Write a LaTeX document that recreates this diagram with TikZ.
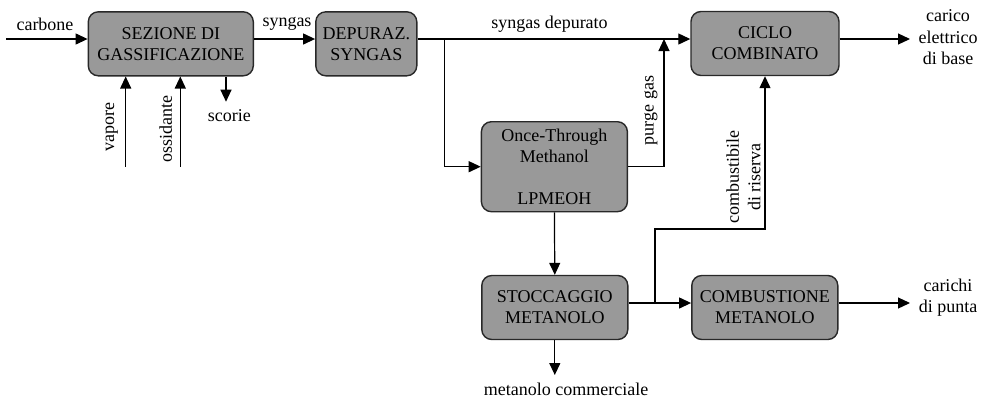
\documentclass[tikz,border=0pt]{standalone}
\usepackage{fontspec}
\setmainfont{Liberation Serif}
\newfontfamily\diagfont{Liberation Serif}
\usetikzlibrary{arrows.meta}
\definecolor{unitgray}{RGB}{153,153,153}
\definecolor{edgegray}{RGB}{40,40,40}
\begin{document}
\begin{tikzpicture}[x=0.5pt, y=-0.5pt,
    unit/.style={rectangle, rounded corners=5pt, draw=edgegray, line width=0.7pt, fill=unitgray, inner sep=1pt, minimum width=73pt, minimum height=32pt, align=center, font=\diagfont\fontsize{9}{10.5}\selectfont},
    lbl/.style={inner sep=0pt, align=center, font=\diagfont\fontsize{9}{10.8}\selectfont},
    flow/.style={-{Triangle[length=6pt, width=5.5pt]}, line width=0.6pt}
]
    \useasboundingbox (0,0) rectangle (982,398);

    % Process units
    \node[unit, minimum width=82.5pt] (gas) at (170.8, 43.8) {SEZIONE DI\\GASSIFICAZIONE};
    \node[unit, minimum width=50.5pt] (dep) at (366.3, 43.8) {DEPURAZ.\\SYNGAS};
    \node[unit, minimum width=74pt] (ciclo) at (765, 43.5) {CICLO\\COMBINATO};
    \node[unit, minimum height=45pt] (otm) at (554.4, 166.7) {Once-Through\\Methanol\\ \\LPMEOH};
    \node[unit] (stoc) at (554.8, 307.5) {STOCCAGGIO\\METANOLO};
    \node[unit] (comb) at (764.8, 307.5) {COMBUSTIONE\\METANOLO};

    % Free ends and junctions
    \coordinate (cin) at (6, 39);
    \coordinate (sp) at (444.5, 39);
    \coordinate (pg) at (664, 39);
    \coordinate (base) at (910, 39);
    \coordinate (lo) at (0, 303);
    \coordinate (rs) at (655, 303);
    \coordinate (rk) at (655, 229);
    \coordinate (punta) at (910, 303);
    \coordinate (mc) at (554.8, 375);
    \coordinate (vp) at (125.7, 166.7);
    \coordinate (ox) at (180.3, 166.7);
    \coordinate (sc) at (226, 101.7);

    % Syngas line
    \draw[flow] (cin) -- (cin -| gas.west);
    \draw[flow] (gas.east |- cin) -- (dep.west |- cin);
    \draw[flow] (dep.east |- cin) -- (ciclo.west |- cin);
    \draw[flow] (ciclo.east |- cin) -- (base);
    \draw[flow] (vp) -- (vp |- gas.south);
    \draw[flow] (ox) -- (ox |- gas.south);
    \draw[flow] (sc |- gas.south) -- (sc);

    % Methanol branch
    \draw[flow] (sp) |- (otm.west);
    \draw[flow] (otm.east) -| (pg);
    \draw[flow] (otm.south) -- (stoc.north);
    \draw[flow] (stoc.south) -- (mc);
    \draw[flow] (stoc.east |- lo) -- (comb.west |- lo);
    \draw[flow] (rs) -- (rk) -| (ciclo.south);
    \draw[flow] (comb.east |- lo) -- (punta);

    % Stream labels
    \node[lbl] (lcarb) at (45, 24) {carbone};
    \node[lbl] (lsyn) at (287, 24) {syngas};
    \node[lbl] (ldep) at (549.5, 24) {syngas depurato};
    \node[lbl] (lbase) at (948, 37.5) {carico\\elettrico\\di base};
    \node[lbl] (lpunta) at (948, 297.5) {carichi\\di punta};
    \node[lbl] (lmc) at (566, 389) {metanolo commerciale};
    \node[lbl] (lsc) at (229.3, 116) {scorie};
    \node[lbl, rotate=90] (lvp) at (111.7, 126.7) {vapore};
    \node[lbl, rotate=90] (lox) at (165.7, 129) {ossidante};
    \node[lbl, rotate=90] (lpg) at (651, 110.5) {purge gas};
    \node[lbl, rotate=90] (lrs) at (743.5, 177) {combustibile\\di riserva};
\end{tikzpicture}
\end{document}
